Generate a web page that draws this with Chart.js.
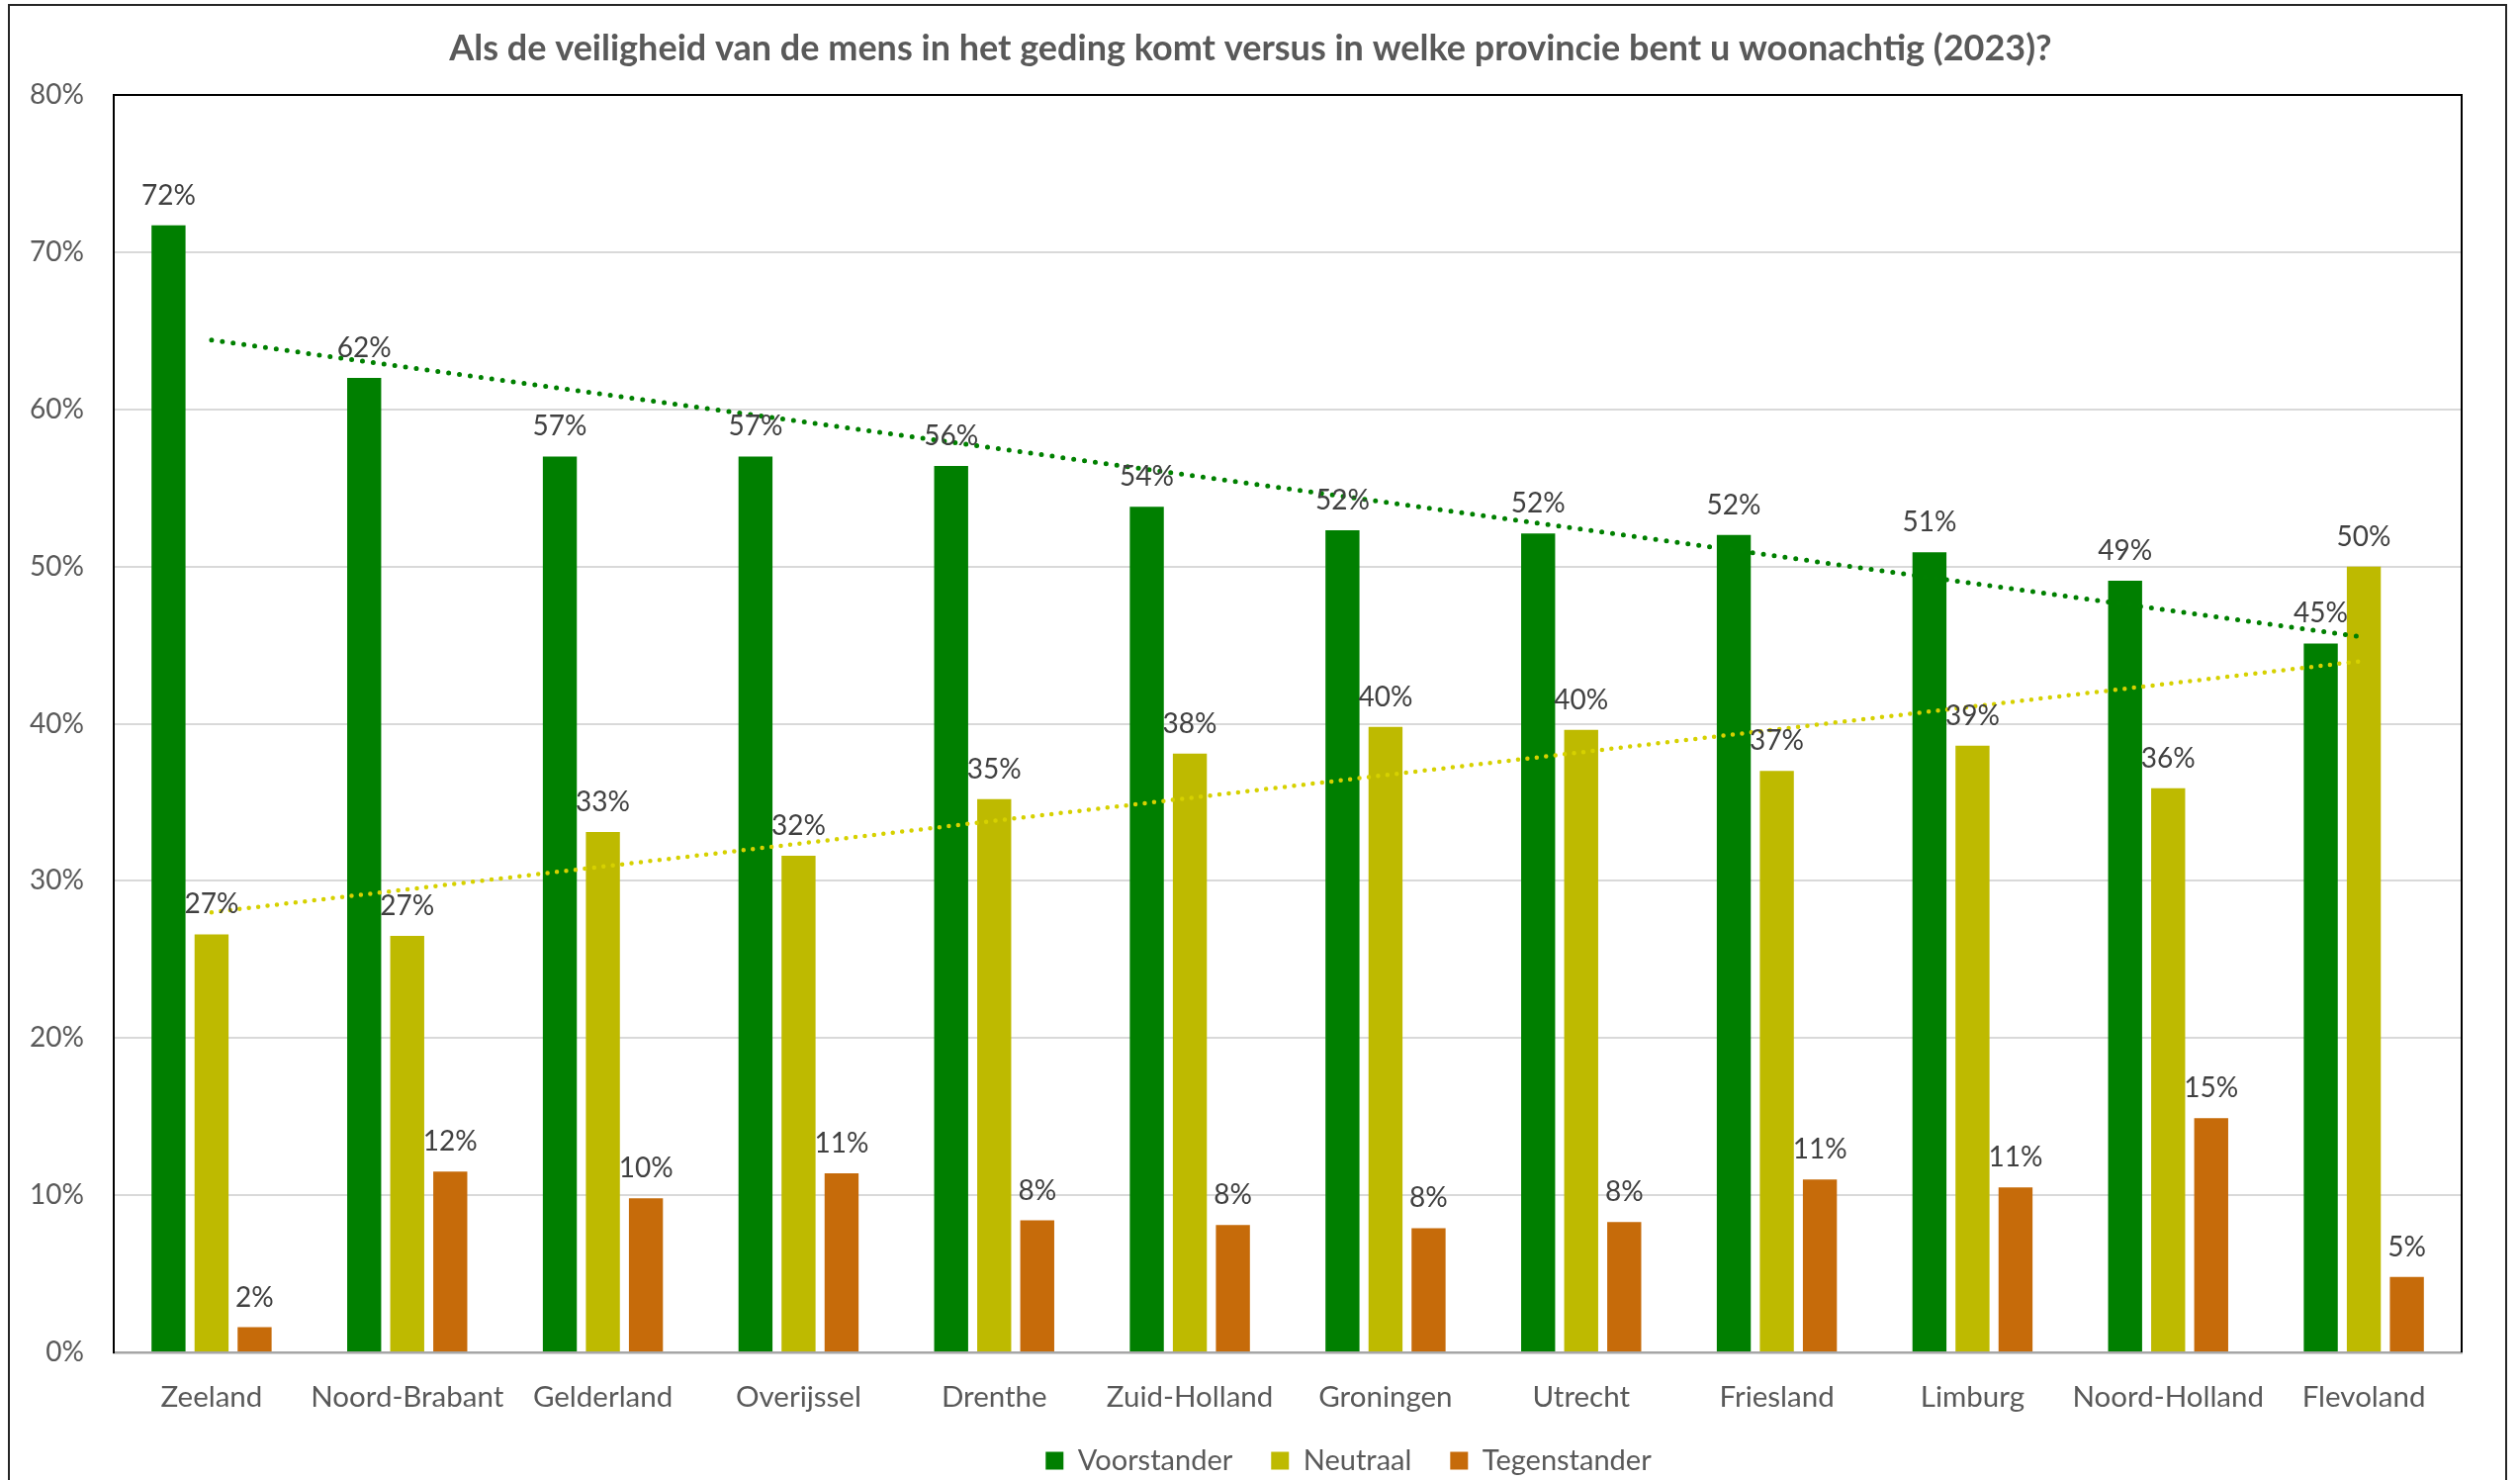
<!DOCTYPE html>
<html>
<head>
<meta charset="utf-8">
<script src="https://cdn.jsdelivr.net/npm/chart.js@4.4.1/dist/chart.umd.min.js"></script>
<style>
  html, body { margin: 0; padding: 0; background: #fff; }
  #wrap { position: relative; width: 2548px; height: 1496px; overflow: hidden; background: #fff; }
  #frame { position: absolute; left: 8px; top: 4px; width: 2527px; height: 1600px; border: 2px solid #262626; box-sizing: border-box; }
  #chart { position: absolute; left: 0; top: 0; }
</style>
</head>
<body>
<div id="wrap">
  <div id="frame"></div>
  <canvas id="chart" width="2548" height="1496"></canvas>
</div>
<script>
// data
var provinces = ['Zeeland', 'Noord-Brabant', 'Gelderland', 'Overijssel', 'Drenthe', 'Zuid-Holland',
  'Groningen', 'Utrecht', 'Friesland', 'Limburg', 'Noord-Holland', 'Flevoland'];
var voorstander = [71.7, 62.0, 57.0, 57.0, 56.4, 53.8, 52.3, 52.1, 52.0, 50.9, 49.1, 45.1];
var neutraal = [26.6, 26.5, 33.1, 31.6, 35.2, 38.1, 39.8, 39.6, 37.0, 38.6, 35.9, 50.0];
var tegenstander = [1.6, 11.5, 9.8, 11.4, 8.4, 8.1, 7.9, 8.3, 11.0, 10.5, 14.9, 4.8];
// linear trendline end points (first and last province)
var trendVoorstander = [64.4, 45.5];
var trendNeutraal = [28.0, 44.0];
var yTicks = [0, 10, 20, 30, 40, 50, 60, 70, 80];

var FONT = 'Lato, "Open Sans", sans-serif';
Chart.defaults.font.family = FONT;

// trend: value at first and last category, gaps in between
function trendData(ends) {
  return provinces.map(function(p, i) {
    if (i === 0) return ends[0];
    if (i === provinces.length - 1) return ends[1];
    return null;
  });
}

// value labels on top of the bars
var barLabels = {
  id: 'barLabels',
  afterDatasetsDraw: function(chart) {
    var ctx = chart.ctx;
    ctx.save();
    ctx.font = '28px ' + FONT;
    ctx.fillStyle = '#404040';
    ctx.textAlign = 'center';
    ctx.textBaseline = 'alphabetic';
    chart.data.datasets.forEach(function(ds, di) {
      if (ds.type === 'line') return;
      chart.getDatasetMeta(di).data.forEach(function(bar, i) {
        ctx.fillText(Math.round(ds.data[i]) + '%', bar.x, bar.y - 21);
      });
    });
    ctx.restore();
  }
};

// black frame round the plot area (left, top, right)
var plotFrame = {
  id: 'plotFrame',
  afterDraw: function(chart) {
    var a = chart.chartArea, ctx = chart.ctx;
    ctx.save();
    ctx.strokeStyle = '#000';
    ctx.lineWidth = 2;
    ctx.beginPath();
    ctx.moveTo(a.left, a.bottom);
    ctx.lineTo(a.left, a.top);
    ctx.lineTo(a.right, a.top);
    ctx.lineTo(a.right, a.bottom);
    ctx.stroke();
    ctx.restore();
  }
};

// small position tweaks after layout: legend right of centre and lower,
// title centred on the whole frame, x labels not clipped
var tweaks = {
  id: 'tweaks',
  afterLayout: function(chart) {
    chart.legend.left += 119;
    chart.legend.right += 119;
    chart.legend.top += 5;
    chart.legend.bottom += 5;
    chart.titleBlock.left += 20;
    chart.titleBlock.right += 20;
    chart.scales.x.bottom = chart.height;
  }
};

var ctx = document.getElementById('chart').getContext('2d');
new Chart(ctx, {
  type: 'bar',
  data: {
    labels: provinces,
    datasets: [
      {
        type: 'line', label: 'trend Voorstander', data: trendData(trendVoorstander),
        borderColor: '#008000', borderWidth: 5, borderDash: [0, 11], borderCapStyle: 'round',
        pointRadius: 0, spanGaps: true, order: -1
      },
      {
        type: 'line', label: 'trend Neutraal', data: trendData(trendNeutraal),
        borderColor: '#D6D100', borderWidth: 4.5, borderDash: [0, 9.5], borderCapStyle: 'round',
        pointRadius: 0, spanGaps: true, order: -1
      },
      { label: 'Voorstander', data: voorstander, backgroundColor: '#007F00' },
      { label: 'Neutraal', data: neutraal, backgroundColor: '#BEBA00' },
      { label: 'Tegenstander', data: tegenstander, backgroundColor: '#C66B0A' }
    ]
  },
  options: {
    responsive: false,
    animation: false,
    categoryPercentage: 0.66,
    barPercentage: 0.79,
    layout: { padding: { left: 0, right: 59, top: 0, bottom: 0 } },
    plugins: {
      title: {
        display: true,
        text: 'Als de veiligheid van de mens in het geding komt versus in welke provincie bent u woonachtig (2023)?',
        color: '#595959',
        font: { size: 36, weight: 'bold' },
        padding: { top: 27.4, bottom: 25.4 }
      },
      legend: {
        position: 'bottom',
        labels: {
          boxWidth: 18, boxHeight: 18, padding: 39,
          color: '#595959', font: { size: 29 },
          filter: function(item) { return item.text.indexOf('trend') !== 0; }
        }
      },
      tooltip: { enabled: false }
    },
    scales: {
      x: {
        grid: { display: false, drawTicks: false },
        border: { color: '#A6A6A6', width: 2.5 },
        ticks: { color: '#595959', font: { size: 29.5 }, padding: 28, maxRotation: 0, autoSkip: false },
        afterFit: function(axis) { axis.height = 51; }
      },
      y: {
        min: 0, max: 80,
        afterBuildTicks: function(axis) { axis.ticks = yTicks.map(function(v) { return { value: v }; }); },
        grid: { color: '#D9D9D9', lineWidth: 2, drawTicks: false },
        border: { color: '#000', width: 2 },
        ticks: {
          color: '#595959', font: { size: 28 }, padding: 30,
          callback: function(v) { return v + '%'; }
        },
        afterFit: function(axis) { axis.width = 115; }
      }
    }
  },
  plugins: [barLabels, plotFrame, tweaks]
});
</script>
</body>
</html>
